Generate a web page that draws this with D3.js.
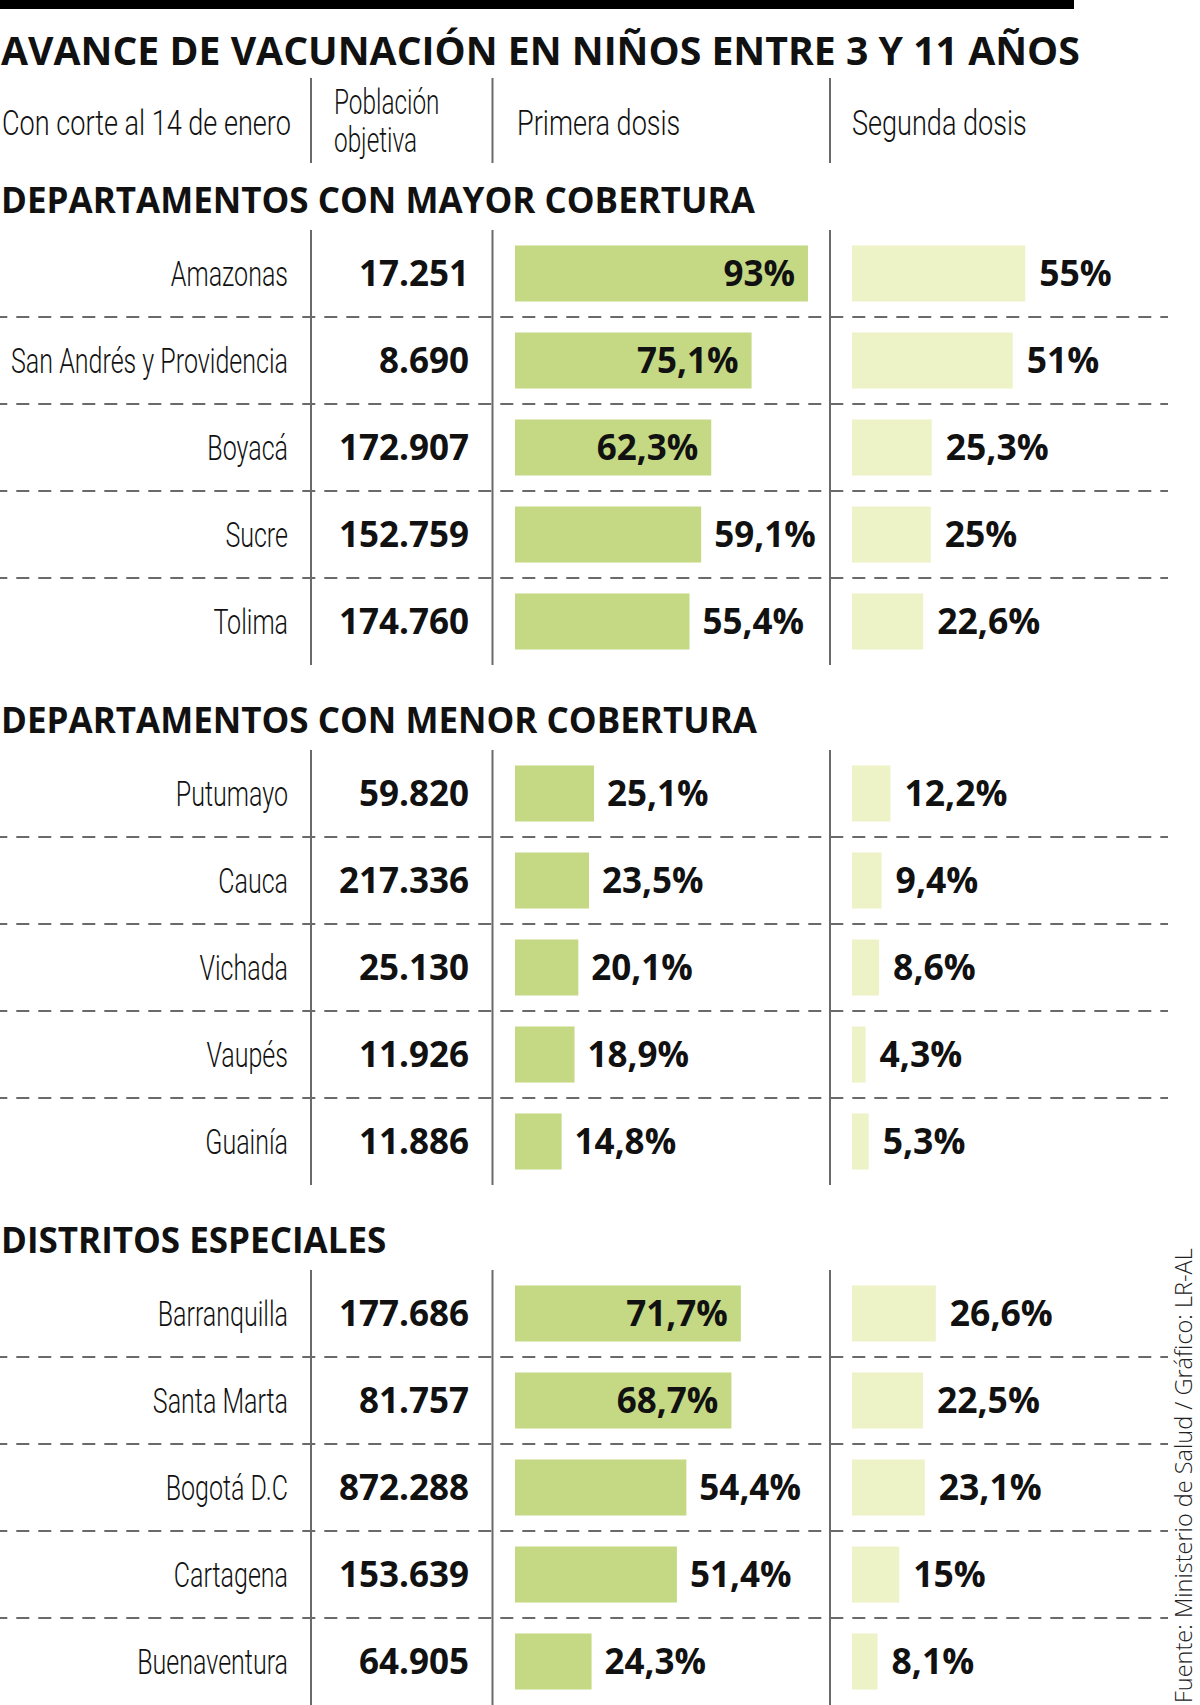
<!DOCTYPE html>
<html>
<head>
<meta charset="utf-8">
<script src="https://d3js.org/d3.v7.min.js"></script>
<style>
  body { margin: 0; background: #fff; }
  svg { display: block; }
</style>
</head>
<body>
<svg width="1200" height="1705"></svg>
<script>
// ---- data ----
const title = "AVANCE DE VACUNACIÓN EN NIÑOS ENTRE 3 Y 11 AÑOS";
const headerCut = "Con corte al 14 de enero";
const headerPop = ["Población", "objetiva"];
const headerFirst = "Primera dosis";
const headerSecond = "Segunda dosis";
const source = "Fuente: Ministerio de Salud / Gráfico: LR-AL";

const sectionTitles = [
  "DEPARTAMENTOS CON MAYOR COBERTURA",
  "DEPARTAMENTOS CON MENOR COBERTURA",
  "DISTRITOS ESPECIALES"
];

const names = [
  ["Amazonas", "San Andrés y Providencia", "Boyacá", "Sucre", "Tolima"],
  ["Putumayo", "Cauca", "Vichada", "Vaupés", "Guainía"],
  ["Barranquilla", "Santa Marta", "Bogotá D.C", "Cartagena", "Buenaventura"]
];
const population = [
  [17251, 8690, 172907, 152759, 174760],
  [59820, 217336, 25130, 11926, 11886],
  [177686, 81757, 872288, 153639, 64905]
];
const firstDose = [
  [93, 75.1, 62.3, 59.1, 55.4],
  [25.1, 23.5, 20.1, 18.9, 14.8],
  [71.7, 68.7, 54.4, 51.4, 24.3]
];
const secondDose = [
  [55, 51, 25.3, 25, 22.6],
  [12.2, 9.4, 8.6, 4.3, 5.3],
  [26.6, 22.5, 23.1, 15, 8.1]
];

// ---- layout ----
const svg = d3.select("svg");
const es = d3.formatLocale({decimal: ",", thousands: ".", grouping: [3], currency: ["$", ""]});
const fmtPop = es.format(",d");
const fmtPct = v => es.format(".1~f")(v) + "%";

const colLine = [311, 492.5, 830];
const labelRight = 288;
const popRight = 469;
const bar1X = 515, bar2X = 852;
const dashEnd = 1168;
const sectionTop = [230, 750, 1270];
const blockH = 435;

const x = d3.scaleLinear().domain([0, 100]).range([0, 315]);

const grey = "#6a6a6a";
const green = "#c5d985";
const pale = "#edf2c7";
const ink = "#111";

// horizontal squeeze for the light face, calibrated on one string each
function squeeze(str, size, target) {
  const t = svg.append("text")
    .attr("font-family", "Roboto").attr("font-weight", 300).attr("font-size", size)
    .text(str);
  const k = target / t.node().getComputedTextLength();
  t.remove();
  return k;
}
const sxHead = squeeze(headerCut, 36, 289);
const sxRow = squeeze(names[0][1], 36, 277);

function light(g, str, tx, ty, anchor, k, size) {
  return g.append("text")
    .attr("transform", `translate(${tx},${ty}) scale(${k},1)`)
    .attr("font-family", "Roboto").attr("font-weight", 300).attr("font-size", size || 36)
    .attr("fill", ink)
    .attr("text-anchor", anchor || "start")
    .text(str);
}

function bold(g, str, tx, ty, anchor, size) {
  return g.append("text")
    .attr("x", tx).attr("y", ty)
    .attr("font-family", "Open Sans").attr("font-weight", 700)
    .attr("font-size", size || 35)
    .attr("fill", ink)
    .attr("text-anchor", anchor || "start")
    .text(str);
}

// top rule and title
svg.append("rect").attr("x", 0).attr("y", 0).attr("width", 1074).attr("height", 9).attr("fill", "#000");
bold(svg, title, 1, 65, "start", 39.2);

// header row
const head = svg.append("g");
light(head, headerCut, 2, 135, "start", sxHead);
light(head, headerPop[0], 334, 114, "start", sxRow, 35);
light(head, headerPop[1], 334, 152, "start", sxRow, 35);
light(head, headerFirst, 517, 135, "start", sxHead);
light(head, headerSecond, 852, 135, "start", sxHead);
head.selectAll("line").data(colLine).join("line")
  .attr("x1", d => d).attr("x2", d => d)
  .attr("y1", 78).attr("y2", 163)
  .attr("stroke", grey).attr("stroke-width", 2);

// sections
sectionTitles.forEach((st, s) => {
  const g = svg.append("g").attr("transform", `translate(0,${sectionTop[s]})`);
  bold(g, st, 1, -17, "start", 35);

  const rows = names[s].map((n, i) => ({
    name: n, pop: population[s][i], first: firstDose[s][i], second: secondDose[s][i]
  }));

  const y = d3.scaleBand().domain(names[s]).range([0, blockH])
    .paddingInner(0.356).paddingOuter(0.178);
  const gap = (y.step() - y.bandwidth()) / 2;

  // dashed separators
  g.selectAll("line.sep").data(rows.slice(1)).join("line")
    .attr("class", "sep")
    .attr("x1", 0).attr("x2", dashEnd)
    .attr("y1", d => y(d.name) - gap)
    .attr("y2", d => y(d.name) - gap)
    .attr("stroke", grey).attr("stroke-width", 2)
    .attr("stroke-dasharray", "13,9")
    .attr("stroke-dashoffset", 5.7);

  // column rules
  g.selectAll("line.col").data(colLine).join("line")
    .attr("class", "col")
    .attr("x1", d => d).attr("x2", d => d)
    .attr("y1", 0).attr("y2", blockH)
    .attr("stroke", grey).attr("stroke-width", 2);

  // bars
  g.selectAll("rect.b1").data(rows).join("rect")
    .attr("class", "b1")
    .attr("x", bar1X).attr("y", d => y(d.name))
    .attr("width", d => x(d.first)).attr("height", y.bandwidth())
    .attr("fill", green);
  g.selectAll("rect.b2").data(rows).join("rect")
    .attr("class", "b2")
    .attr("x", bar2X).attr("y", d => y(d.name))
    .attr("width", d => x(d.second)).attr("height", y.bandwidth())
    .attr("fill", pale);

  rows.forEach(d => {
    const base = y(d.name) + y.bandwidth() / 2 + 12.5;
    light(g, d.name, labelRight, base, "end", sxRow);
    bold(g, fmtPop(d.pop), popRight, base, "end");
    const inside = d.first > 60;
    bold(g, fmtPct(d.first),
      inside ? bar1X + x(d.first) - 13 : bar1X + x(d.first) + 13,
      base, inside ? "end" : "start");
    bold(g, fmtPct(d.second), bar2X + x(d.second) + 14, base, "start", 35.5);
  });
});

// source, vertical
svg.append("text")
  .attr("transform", "translate(1192,1703) rotate(-90)")
  .attr("font-family", "Open Sans").attr("font-weight", 300).attr("font-size", 23.5)
  .attr("fill", "#222")
  .text(source);
</script>
</body>
</html>
